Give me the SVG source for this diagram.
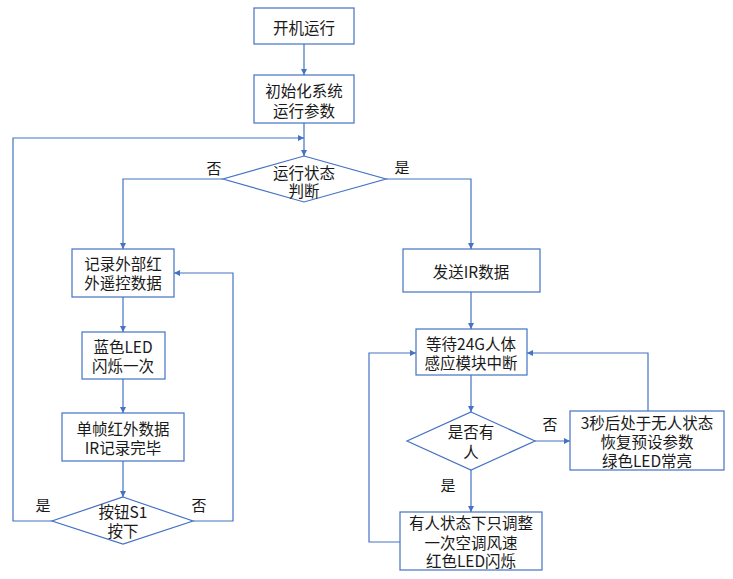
<svg xmlns="http://www.w3.org/2000/svg" width="733" height="579" viewBox="0 0 733 579">
<style>
.box{fill:#fff;stroke:#4472C4;stroke-width:1.2}
.t{font-family:"Noto Sans CJK SC","Noto Sans",sans-serif;font-size:15.5px;fill:#1a1a1a;text-anchor:middle;dominant-baseline:central}
.lb{font-family:"Noto Sans CJK SC","Noto Sans",sans-serif;font-size:15px;fill:#1a1a1a;text-anchor:middle;dominant-baseline:central}
.c{fill:none;stroke:#4472C4;stroke-width:1.2}
</style>
<defs>
<marker id="ah" viewBox="0 0 10 10" refX="10" refY="5" markerWidth="6" markerHeight="6" markerUnits="userSpaceOnUse" orient="auto">
<path d="M0,0 L10,5 L0,10 z" fill="#4472C4"/>
</marker>
</defs>
<rect width="733" height="579" fill="#fff"/>
<g id="connectors">
<path class="c" d="M304,44 V75" marker-end="url(#ah)"/>
<path class="c" d="M304,123 V156" marker-end="url(#ah)"/>
<path class="c" d="M223,179 H123 V249" marker-end="url(#ah)"/>
<path class="c" d="M386,179 H471 V249" marker-end="url(#ah)"/>
<path class="c" d="M123,297 V332" marker-end="url(#ah)"/>
<path class="c" d="M123,379 V413" marker-end="url(#ah)"/>
<path class="c" d="M123,461 V497" marker-end="url(#ah)"/>
<path class="c" d="M52,521 H13 V138 H304" marker-end="url(#ah)"/>
<path class="c" d="M193,521 H233 V273 H174" marker-end="url(#ah)"/>
<path class="c" d="M471,292 V329" marker-end="url(#ah)"/>
<path class="c" d="M471,375 V412" marker-end="url(#ah)"/>
<path class="c" d="M535,441 H570" marker-end="url(#ah)"/>
<path class="c" d="M471,470 V512" marker-end="url(#ah)"/>
<path class="c" d="M648,411 V353 H527" marker-end="url(#ah)"/>
<path class="c" d="M400,542 H369 V353 H416" marker-end="url(#ah)"/>
</g>
<g id="labels">
<text class="lb" x="214" y="167">否</text>
<text class="lb" x="402" y="166">是</text>
<text class="lb" x="43" y="504">是</text>
<text class="lb" x="199" y="504">否</text>
<text class="lb" x="550" y="423">否</text>
<text class="lb" x="448" y="484">是</text>
</g>
<g id="n1"><rect class="box" x="254" y="8" width="100" height="36"/><text class="t" x="304" y="27">开机运行</text></g>
<g id="n2"><rect class="box" x="254" y="75" width="100" height="48"/><text class="t" x="304" y="90">初始化系统</text><text class="t" x="304" y="110">运行参数</text></g>
<g id="n3"><polygon class="box" points="304,156 386,179 304,202 223,179"/><text class="t" x="304" y="172">运行状态</text><text class="t" x="304" y="190">判断</text></g>
<g id="n4"><rect class="box" x="72" y="249" width="102" height="48"/><text class="t" x="123" y="263">记录外部红</text><text class="t" x="123" y="282">外遥控数据</text></g>
<g id="n5"><rect class="box" x="82" y="332" width="83" height="47"/><text class="t" x="123" y="346">蓝色LED</text><text class="t" x="123" y="365">闪烁一次</text></g>
<g id="n6"><rect class="box" x="62" y="413" width="122" height="48"/><text class="t" x="123" y="428">单帧红外数据</text><text class="t" x="123" y="447">IR记录完毕</text></g>
<g id="n7"><polygon class="box" points="123,497 193,521 123,544 52,521"/><text class="t" x="123" y="511">按钮S1</text><text class="t" x="123" y="530">按下</text></g>
<g id="n8"><rect class="box" x="403" y="249" width="137" height="43"/><text class="t" x="471" y="271">发送IR数据</text></g>
<g id="n9"><rect class="box" x="416" y="329" width="111" height="46"/><text class="t" x="471" y="343">等待24G人体</text><text class="t" x="471" y="362">感应模块中断</text></g>
<g id="n10"><polygon class="box" points="471,412 535,441 471,470 407,441"/><text class="t" x="471" y="431">是否有</text><text class="t" x="471" y="451">人</text></g>
<g id="n11"><rect class="box" x="570" y="411" width="154" height="59"/><text class="t" x="647" y="422">3秒后处于无人状态</text><text class="t" x="647" y="441">恢复预设参数</text><text class="t" x="647" y="460">绿色LED常亮</text></g>
<g id="n12"><rect class="box" x="400" y="512" width="142" height="58"/><text class="t" x="471" y="522">有人状态下只调整</text><text class="t" x="471" y="542">一次空调风速</text><text class="t" x="471" y="560">红色LED闪烁</text></g>
</svg>
